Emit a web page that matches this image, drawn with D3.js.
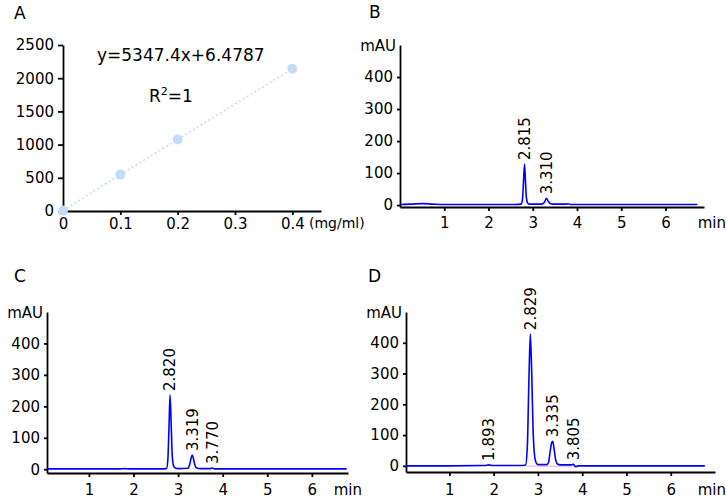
<!DOCTYPE html>
<html>
<head>
<meta charset="utf-8">
<script src="https://d3js.org/d3.v7.min.js"></script>
<style>
  html, body { margin: 0; padding: 0; background: #fff; }
  svg text { font-family: "DejaVu Sans", sans-serif; fill: #000; }
  .axis path, .axis line { stroke: #000; stroke-width: 1.8; }
  .axis text { font-size: 15px; }
</style>
</head>
<body>
<svg id="chart" width="726" height="498"></svg>
<script>
'use strict';

// ─── DATA ────────────────────────────────────────────────────

// A: calibration curve
var calibConc = [0, 0.1, 0.2, 0.4];
var calibArea = [6, 548, 1078, 2141];
var calibXTicks = [0, 0.1, 0.2, 0.3, 0.4];
var calibYTicks = [0, 500, 1000, 1500, 2000, 2500];
var calibEquation = 'y=5347.4x+6.4787';

// chromatogram axes
var mauTicks = [0, 100, 200, 300, 400];
var minTicks = [1, 2, 3, 4, 5, 6];

// B: traces as [min, mAU]
var traceB = [
    [0.02, 2], [0.25, 3], [0.5, 4.5], [0.75, 3], [1.0, 2], [2.0, 2], [2.6, 2],
    [2.74, 3], [2.77, 20], [2.79, 70], [2.815, 128], [2.835, 75], [2.855, 25],
    [2.88, 8], [2.92, 3], [3.2, 3], [3.26, 8], [3.31, 21], [3.35, 12], [3.39, 5],
    [3.45, 3], [3.75, 3], [3.8, 4], [3.85, 2], [4.5, 2], [6.72, 2]
];
var peaksB = ['2.815', '3.310'];
var peakHeightsB = [128, 21];

// C
var traceC = [
    [0.06, 1], [1.0, 1], [1.7, 1], [1.8, 2], [1.9, 1], [2.6, 1], [2.74, 2],
    [2.77, 30], [2.795, 130], [2.82, 236], [2.845, 140], [2.87, 40], [2.9, 10],
    [2.95, 3], [3.0, 2], [3.22, 3], [3.26, 15], [3.29, 35], [3.319, 45], [3.35, 30],
    [3.38, 12], [3.42, 4], [3.5, 2], [3.72, 2], [3.77, 4], [3.82, 1], [3.9, 1], [6.78, 1]
];
var peaksC = ['2.820', '3.319', '3.770'];
var peakHeightsC = [236, 45, 4];

// D
var traceD = [
    [0.02, 0], [1.0, 0], [1.8, 1], [1.893, 3], [1.98, 1], [2.6, 1], [2.72, 3],
    [2.76, 60], [2.8, 300], [2.829, 428], [2.86, 300], [2.89, 120], [2.92, 40],
    [2.96, 10], [3.0, 4], [3.2, 4], [3.24, 12], [3.28, 50], [3.31, 75], [3.335, 80],
    [3.37, 50], [3.4, 20], [3.44, 6], [3.5, 3], [3.75, 3], [3.805, 5], [3.85, -3],
    [3.9, 0], [6.77, 0]
];
var peaksD = ['1.893', '2.829', '3.335', '3.805'];
var peakHeightsD = [3, 428, 80, 5];
var baselineD = [[2.72, -1], [3.9, -1]];

// ─── LAYOUT ──────────────────────────────────────────────────

var svg = d3.select('#chart');

function panelLetter(text, x, y) {
    svg.append('text').attr('x', x).attr('y', y)
        .attr('font-size', 17).text(text);
}

// ─── PANEL A ─────────────────────────────────────────────────

(function() {
    var x = d3.scaleLinear().domain([0, 0.45]).range([63, 321]);
    var y = d3.scaleLinear().domain([0, 2500]).range([211, 45]);

    svg.append('g').attr('class', 'axis')
        .attr('transform', 'translate(0,211)')
        .call(d3.axisBottom(x).tickValues(calibXTicks).tickSize(4).tickPadding(3)
            .tickSizeOuter(0).tickFormat(function(d) { return d === 0 ? '0' : d3.format('.1f')(d); }));

    svg.append('g').attr('class', 'axis')
        .attr('transform', 'translate(63,0)')
        .call(d3.axisLeft(y).tickValues(calibYTicks).tickSize(5).tickPadding(4)
            .tickSizeOuter(0).tickFormat(d3.format('d')));

    svg.append('text').attr('x', 309).attr('y', 228).attr('font-size', 14).text('(mg/ml)');

    var pts = calibConc.map(function(c, i) { return [c, calibArea[i]]; });
    svg.append('path')
        .attr('d', d3.line().x(function(d) { return x(d[0]); }).y(function(d) { return y(d[1]); })(pts))
        .attr('fill', 'none')
        .attr('stroke', '#c5dcf6')
        .attr('stroke-width', 1.6)
        .attr('stroke-dasharray', '2,2.5');

    svg.append('g').selectAll('circle').data(pts).enter().append('circle')
        .attr('cx', function(d) { return x(d[0]); })
        .attr('cy', function(d) { return y(d[1]); })
        .attr('r', 5)
        .attr('fill', '#c5dcf6');

    svg.append('text').attr('x', 97).attr('y', 61).attr('font-size', 17).text(calibEquation);
    var r2 = svg.append('text').attr('x', 149).attr('y', 102).attr('font-size', 17);
    r2.append('tspan').text('R');
    r2.append('tspan').attr('font-size', 11).attr('dy', -7).text('2');
    r2.append('tspan').attr('dy', 7).text('=1');

    panelLetter('A', 14, 19);
})();

// ─── CHROMATOGRAMS ───────────────────────────────────────────

function chromatogram(cfg) {
    var x = d3.scaleLinear().domain(cfg.xDomain).range([cfg.left, cfg.right]);
    var y = d3.scaleLinear().domain(cfg.yDomain).range([cfg.bottom, cfg.top]);

    svg.append('g').attr('class', 'axis')
        .attr('transform', 'translate(0,' + cfg.bottom + ')')
        .call(d3.axisBottom(x).tickValues(minTicks).tickSize(4).tickPadding(cfg.xPad)
            .tickSizeOuter(0).tickFormat(d3.format('d')));

    svg.append('g').attr('class', 'axis')
        .attr('transform', 'translate(' + cfg.left + ',0)')
        .call(d3.axisLeft(y).tickValues(mauTicks).tickSize(3).tickPadding(4)
            .tickSizeOuter(0).tickFormat(d3.format('d')));

    svg.append('text').attr('x', cfg.left - 4).attr('y', cfg.top).attr('dy', '0.4em')
        .attr('text-anchor', 'end').attr('font-size', 15).text('mAU');
    svg.append('text').attr('x', cfg.minX).attr('y', cfg.bottom + cfg.xPad + 15)
        .attr('text-anchor', 'end').attr('font-size', 15).text('min');

    var line = d3.line()
        .x(function(d) { return x(d[0]); })
        .y(function(d) { return y(d[1]); })
        .curve(d3.curveMonotoneX);

    if (cfg.baseline) {
        svg.append('path').attr('d', line(cfg.baseline))
            .attr('fill', 'none').attr('stroke', '#f5a8d6').attr('stroke-width', 1);
    }

    svg.append('path').attr('d', line(cfg.trace))
        .attr('fill', 'none')
        .attr('stroke', '#0000ff')
        .attr('stroke-width', 1.6)
        .attr('stroke-linejoin', 'round');

    svg.append('g').selectAll('text').data(cfg.peaks).enter().append('text')
        .attr('font-size', 15)
        .attr('dy', '0.36em')
        .attr('transform', function(d, i) {
            return 'translate(' + x(+d) + ',' + (y(cfg.heights[i]) - 4) + ') rotate(-90)';
        })
        .text(function(d) { return d; });

    panelLetter(cfg.letter, cfg.letterX, cfg.letterY);
}

chromatogram({
    letter: 'B', letterX: 369, letterY: 18,
    trace: traceB, peaks: peaksB, heights: peakHeightsB,
    xDomain: [0, 6.87], yDomain: [-6, 500],
    left: 400, right: 704, top: 45, bottom: 207, xPad: 6, minX: 726
});

chromatogram({
    letter: 'C', letterX: 14, letterY: 282,
    trace: traceC, peaks: peaksC, heights: peakHeightsC,
    xDomain: [0.06, 6.81], yDomain: [-12, 500],
    left: 47, right: 348, top: 312, bottom: 473, xPad: 7, minX: 362
});

chromatogram({
    letter: 'D', letterX: 368, letterY: 282,
    trace: traceD, peaks: peaksD, heights: peakHeightsD, baseline: baselineD,
    xDomain: [0.02, 7.0], yDomain: [-20, 500],
    left: 406, right: 715, top: 312, bottom: 472, xPad: 8, minX: 726
});
</script>
</body>
</html>
